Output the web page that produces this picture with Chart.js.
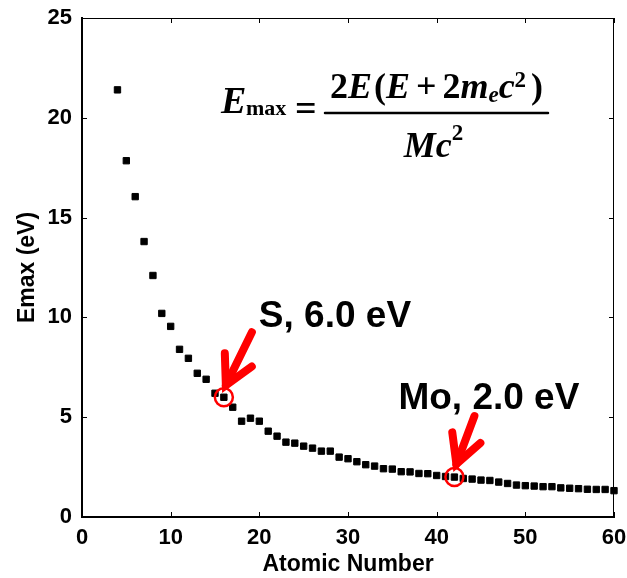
<!DOCTYPE html>
<html>
<head>
<meta charset="utf-8">
<script src="https://cdn.jsdelivr.net/npm/chart.js@4.4.0/dist/chart.umd.min.js"></script>
<style>
  html, body { margin: 0; padding: 0; background: #fff; }
  #wrap { width: 627px; height: 578px; position: relative; }
</style>
</head>
<body>
<div id="wrap"><canvas id="emaxChart"></canvas></div>
<script>
const atomicNumbers = [4, 5, 6, 7, 8, 9, 10, 11, 12, 13, 14, 15, 16, 17, 18, 19, 20, 21, 22, 23, 24, 25, 26, 27, 28, 29, 30, 31, 32,
	33, 34, 35, 36, 37, 38, 39, 40, 41, 42, 43, 44, 45, 46, 47, 48, 49, 50, 51, 52, 53, 54, 55, 56, 57, 58, 59, 60];
const emaxValues = [21.4, 17.85, 16.05, 13.8, 12.1, 10.2, 9.55, 8.4, 7.95, 7.2, 6.9, 6.2, 6.0, 5.5, 4.8, 4.95, 4.8, 4.3, 4.05, 3.75,
	3.7, 3.55, 3.45, 3.3, 3.3, 3.0, 2.92, 2.77, 2.62, 2.55, 2.42, 2.4, 2.27, 2.26, 2.18, 2.17, 2.08, 2.03, 2.0, 1.93, 1.9, 1.85,
	1.83, 1.75, 1.68, 1.6, 1.57, 1.55, 1.52, 1.52, 1.46, 1.44, 1.42, 1.39, 1.38, 1.38, 1.32];

const xTickValues = [0, 10, 20, 30, 40, 50, 60];
const yTickValues = [0, 5, 10, 15, 20, 25];

const markedZ = [16, 42];
const markedEmax = [6.0, 2.0];
const markedLabels = ['S, 6.0 eV', 'Mo, 2.0 eV'];

// offsets (px) of label / arrow relative to the marked point
const calloutStyle = [
	{ textDx: 35, textDy: -70, tipDx: 2, tipDy: -12, tailDx: 28, tailDy: -65 },
	{ textDx: -56, textDy: -68, tipDx: 2, tipDy: -13, tailDx: 20, tailDy: -61 }
];

const sansBold = s => `bold ${s}px "Liberation Sans", Arial, sans-serif`;
const serifIt = s => `italic bold ${s}px "Liberation Serif", "Times New Roman", serif`;
const serifUp = s => `bold ${s}px "Liberation Serif", "Times New Roman", serif`;

function runWidth(ctx, parts) {
	let w = 0;
	parts.forEach(p => {
		ctx.font = p.font;
		w += (p.before || 0) + ctx.measureText(p.t).width + (p.after || 0);
	});
	return w;
}

function drawRun(ctx, parts, x, baseline) {
	parts.forEach(p => {
		ctx.font = p.font;
		x += p.before || 0;
		ctx.fillText(p.t, x, baseline + (p.dy || 0));
		x += ctx.measureText(p.t).width + (p.after || 0);
	});
	return x;
}

function drawFormula(ctx) {
	ctx.fillStyle = '#000';
	ctx.textAlign = 'left';
	ctx.textBaseline = 'alphabetic';
	// left side: E_max =
	ctx.font = serifIt(38);
	ctx.fillText('E', 221, 113);
	ctx.font = serifUp(22);
	ctx.fillText('max', 246, 115);
	ctx.font = serifUp(38);
	const eq = ctx.measureText('=');
	ctx.fillText('=', 295, 103 + eq.actualBoundingBoxAscent);

	// fraction
	const barLeft = 325, barRight = 548, barY = 113;
	ctx.strokeStyle = '#000';
	ctx.lineWidth = 2.5;
	ctx.beginPath();
	ctx.moveTo(barLeft, barY);
	ctx.lineTo(barRight, barY);
	ctx.stroke();

	const numer = [
		{ t: '2', font: serifUp(36) },
		{ t: 'E', font: serifIt(36) },
		{ t: '(', font: serifUp(36), before: 2 },
		{ t: 'E', font: serifIt(36) },
		{ t: '+', font: serifUp(36), before: 6, after: 6 },
		{ t: '2', font: serifUp(36) },
		{ t: 'm', font: serifIt(36) },
		{ t: 'e', font: serifIt(23), dy: 4 },
		{ t: 'c', font: serifIt(36) },
		{ t: '2', font: serifUp(23), dy: -11 },
		{ t: ')', font: serifUp(36), before: 5 }
	];
	const denom = [
		{ t: 'M', font: serifIt(36) },
		{ t: 'c', font: serifIt(36) },
		{ t: '2', font: serifUp(23), dy: -17 }
	];
	const mid = (barLeft + barRight) / 2;
	drawRun(ctx, numer, mid - runWidth(ctx, numer) / 2, 98);
	drawRun(ctx, denom, mid - runWidth(ctx, denom) / 2 - 3, 157);
}

function drawArrow(ctx, tipX, tipY, tailX, tailY) {
	const ang = Math.atan2(tailY - tipY, tailX - tipX);
	const wing = 32, spread = 28 * Math.PI / 180;
	ctx.strokeStyle = '#ff0000';
	ctx.lineWidth = 8;
	ctx.lineCap = 'round';
	ctx.lineJoin = 'miter';
	ctx.beginPath();
	ctx.moveTo(tailX, tailY);
	ctx.lineTo(tipX, tipY);
	ctx.stroke();
	ctx.beginPath();
	ctx.moveTo(tipX + wing * Math.cos(ang - spread), tipY + wing * Math.sin(ang - spread));
	ctx.lineTo(tipX, tipY);
	ctx.lineTo(tipX + wing * Math.cos(ang + spread), tipY + wing * Math.sin(ang + spread));
	ctx.stroke();
}

const framePlugin = {
	id: 'framePlugin',
	beforeDatasetsDraw(chart) {
		const { ctx, chartArea: a, scales: { x, y } } = chart;
		ctx.save();
		ctx.strokeStyle = '#000';
		ctx.lineWidth = 1;
		ctx.beginPath();
		ctx.moveTo(a.left, a.top + 0.5);
		ctx.lineTo(a.right, a.top + 0.5);
		ctx.moveTo(a.right - 0.5, a.top);
		ctx.lineTo(a.right - 0.5, a.bottom);
		// inward ticks on all four sides
		const len = 5;
		x.ticks.forEach(t => {
			const px = Math.round(x.getPixelForValue(t.value)) + 0.5;
			ctx.moveTo(px, a.bottom);
			ctx.lineTo(px, a.bottom - len);
			ctx.moveTo(px, a.top);
			ctx.lineTo(px, a.top + len);
		});
		y.ticks.forEach(t => {
			const py = Math.round(y.getPixelForValue(t.value)) + 0.5;
			ctx.moveTo(a.left, py);
			ctx.lineTo(a.left + len, py);
			ctx.moveTo(a.right, py);
			ctx.lineTo(a.right - len, py);
		});
		ctx.stroke();
		ctx.restore();
	},
	afterDatasetsDraw(chart) {
		const { ctx, scales: { x, y } } = chart;
		ctx.save();
		markedZ.forEach((z, i) => {
			const cx = x.getPixelForValue(z);
			const cy = y.getPixelForValue(markedEmax[i]);
			const st = calloutStyle[i];
			// circle round the point
			ctx.strokeStyle = '#ff0000';
			ctx.lineWidth = 2.5;
			ctx.beginPath();
			ctx.arc(cx, cy, 9, 0, Math.PI * 2);
			ctx.stroke();
			drawArrow(ctx, cx + st.tipDx, cy + st.tipDy, cx + st.tailDx, cy + st.tailDy);
			ctx.fillStyle = '#000';
			ctx.font = sansBold(37);
			ctx.textAlign = 'left';
			ctx.textBaseline = 'alphabetic';
			ctx.fillText(markedLabels[i], cx + st.textDx, cy + st.textDy);
		});
		drawFormula(ctx);
		ctx.restore();
	}
};

function init() {
	const ctx = document.getElementById('emaxChart').getContext('2d');
	new Chart(ctx, {
		type: 'scatter',
		data: {
			datasets: [{
				label: 'Emax',
				data: atomicNumbers.map((z, i) => ({ x: z, y: emaxValues[i] })),
				pointStyle: 'rect',
				pointRadius: 4.5,
				pointBorderWidth: 1,
				pointBackgroundColor: '#000',
				pointBorderColor: '#000',
				clip: false
			}]
		},
		options: {
			responsive: true,
			maintainAspectRatio: false,
			animation: false,
			layout: { padding: { top: 18, right: 13, left: 0, bottom: 0 } },
			plugins: {
				legend: { display: false },
				tooltip: { enabled: false }
			},
			scales: {
				x: {
					type: 'linear',
					min: 0,
					max: 60,
					afterBuildTicks: s => { s.ticks = xTickValues.map(v => ({ value: v })); },
					afterFit: s => {
						s.height = 61;
						s.paddingLeft = 0;
						s.paddingRight = 0;
					},
					grid: { display: false, drawTicks: false },
					border: { display: true, color: '#000', width: 2 },
					ticks: {
						color: '#000',
						font: { family: '"Liberation Sans", Arial, sans-serif', size: 22, weight: 'bold' },
						padding: 8,
						maxRotation: 0
					},
					title: {
						display: true,
						text: 'Atomic Number',
						color: '#000',
						font: { family: '"Liberation Sans", Arial, sans-serif', size: 23, weight: 'bold' },
						padding: { top: 0, bottom: 0 }
					}
				},
				y: {
					type: 'linear',
					min: 0,
					max: 25,
					afterBuildTicks: s => { s.ticks = yTickValues.map(v => ({ value: v })); },
					afterFit: s => {
						s.width = 82;
						s.paddingTop = 0;
						s.paddingBottom = 0;
					},
					grid: { display: false, drawTicks: false },
					border: { display: true, color: '#000', width: 2 },
					ticks: {
						color: '#000',
						font: { family: '"Liberation Sans", Arial, sans-serif', size: 22, weight: 'bold' },
						padding: 10
					},
					title: {
						display: true,
						text: 'Emax (eV)',
						color: '#000',
						font: { family: '"Liberation Sans", Arial, sans-serif', size: 23, weight: 'bold' },
						padding: { top: 14, bottom: 0 }
					}
				}
			}
		},
		plugins: [framePlugin]
	});
}

document.addEventListener('DOMContentLoaded', init);
</script>
</body>
</html>
